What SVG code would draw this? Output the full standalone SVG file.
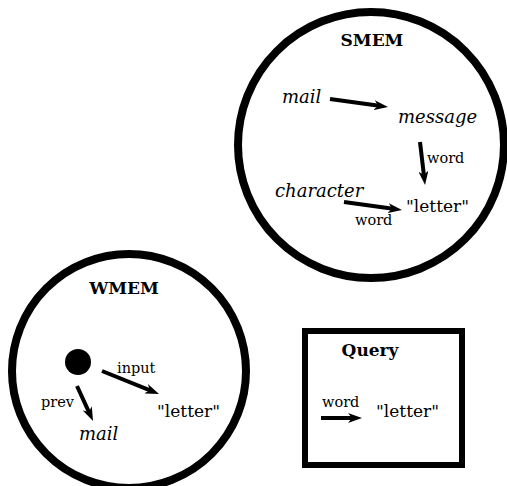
<svg xmlns="http://www.w3.org/2000/svg" width="507" height="486" viewBox="0 0 507 486">
<style>
.ring{fill:#fff;stroke:#000;stroke-width:8}
.box{fill:#fff;stroke:#000;stroke-width:6}
.title{font-family:"DejaVu Serif",serif;font-weight:bold;font-size:17px;text-anchor:middle}
.val{font-family:"DejaVu Serif",serif;font-size:17px}
.it{font-family:"DejaVu Serif",serif;font-style:italic;font-size:18px}
.lbl{font-family:"DejaVu Serif",serif;font-size:14.5px}
.arr{stroke:#000;stroke-width:4;fill:none;marker-end:url(#ah)}
</style>
<defs>
<marker id="ah" viewBox="0 0 14 10" refX="5" refY="5" markerWidth="14" markerHeight="10" markerUnits="userSpaceOnUse" orient="auto">
<path d="M0,0 L14,5 L0,10 L4,5 Z" fill="#000"/>
</marker>
</defs>
<g id="smem">
<circle class="ring" cx="371" cy="145" r="133"/>
<text class="title" x="372" y="46">SMEM</text>
<text class="it" x="282" y="103">mail</text>
<text class="it" x="398" y="123">message</text>
<text class="it" x="275" y="197">character</text>
<text class="val" x="406" y="212">"letter"</text>
<text class="lbl" x="427" y="163">word</text>
<text class="lbl" x="355" y="225">word</text>
</g>
<g id="wmem">
<circle class="ring" cx="129" cy="371" r="117"/>
<text class="title" x="124" y="294">WMEM</text>
<circle cx="78" cy="362" r="13" fill="#000"/>
<text class="lbl" x="117" y="373">input</text>
<text class="lbl" x="41" y="407">prev</text>
<text class="val" x="157" y="417">"letter"</text>
<text class="it" x="79" y="440">mail</text>
</g>
<g id="query">
<rect class="box" x="305" y="331" width="157" height="134"/>
<text class="title" x="370" y="356">Query</text>
<text class="lbl" x="322" y="407">word</text>
<text class="val" x="376" y="417">"letter"</text>
</g>
<g id="connectors">
<line class="arr" x1="330" y1="99" x2="379.1" y2="105.8"/>
<line class="arr" x1="420" y1="142" x2="424" y2="176.1"/>
<line class="arr" x1="344" y1="202" x2="393.1" y2="208.8"/>
<line class="arr" x1="102" y1="371" x2="150.7" y2="390.6"/>
<line class="arr" x1="77" y1="386" x2="89.3" y2="412.8"/>
<line class="arr" x1="321" y1="418" x2="353" y2="418"/>
</g>
</svg>
